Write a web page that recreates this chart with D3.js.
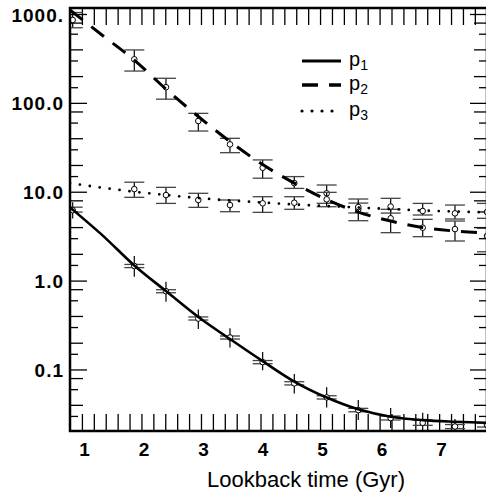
<!DOCTYPE html>
<html>
<head>
<meta charset="utf-8">
<script src="https://cdn.jsdelivr.net/npm/d3@7"></script>
<style>
body { margin: 0; background: #fff; }
svg { display: block; font-family: "Liberation Sans", Arial, sans-serif; }
</style>
</head>
<body>
<div id="chart"></div>
<script>
// lookback times (Gyr) of the binned measurements
const times = [0.845, 1.880, 2.412, 2.955, 3.487, 4.036, 4.567, 5.111, 5.642, 6.186, 6.724, 7.266, 7.804];

// p1 measurements: value, vertical error range, small cap range
const p1 = [6.2, 1.46, 0.76, 0.374, 0.229, 0.121, 0.0698, 0.0485, 0.0349, 0.0284, 0.0251, 0.0228, 0.0237];
const p1Lo = [5.0, 1.105, 0.578, 0.285, 0.177, 0.098, 0.0538, 0.0374, 0.027, 0.0219, 0.019, 0.018, 0.019];
const p1Hi = [7.6, 1.89, 0.97, 0.474, 0.290, 0.157, 0.0887, 0.063, 0.0453, 0.0368, 0.0326, 0.0277, 0.030];
const p1CapLo = [5.9, 1.40, 0.73, 0.36, 0.220, 0.116, 0.067, 0.0465, 0.0334, 0.0270, 0.0235, 0.0216, 0.0225];
const p1CapHi = [6.7, 1.52, 0.79, 0.39, 0.238, 0.126, 0.0728, 0.0506, 0.0365, 0.0299, 0.0269, 0.0240, 0.0250];

// p2 measurements
const p2 = [856, 309, 150, 62.5, 34.1, 18.6, 12.5, 9.6, 6.38, 5.02, 3.94, 3.80, 3.17];
const p2Lo = [700, 228, 110, 48.2, 27.5, 14.2, 10.9, 7.41, 4.72, 3.46, 3.12, 2.79, 2.11];
const p2Hi = [1040, 394, 189, 76.2, 39.9, 22.8, 14.8, 11.9, 7.45, 6.34, 4.89, 4.68, 3.87];

// p3 measurements
const p3 = [null, 10.7, 9.18, 8.07, 7.08, 7.40, 7.52, 8.21, 6.73, 6.81, 6.07, 5.71, 5.91];
const p3Lo = [null, 8.65, 7.39, 6.67, 5.96, 5.86, 6.34, 6.78, 5.77, 5.75, 5.47, 4.93, 5.02];
const p3Hi = [null, 12.8, 11.2, 9.6, 8.07, 8.79, 8.79, 9.84, 8.28, 8.43, 7.39, 7.08, 7.39];

// fitted curves
const fitTimes = [0.80, 1.337, 1.880, 2.412, 2.955, 3.487, 4.036, 4.567, 5.111, 5.642, 6.186, 6.724, 7.266, 7.82];
const p1Fit = [6.67, 3.27, 1.48, 0.762, 0.389, 0.220, 0.124, 0.0731, 0.0483, 0.0356, 0.0294, 0.0269, 0.0258, 0.0251];
const p2Fit = [1109, 581, 303, 143, 70.2, 36.7, 20.2, 12.5, 8.16, 5.90, 4.68, 3.95, 3.61, 3.43];
const p3Fit = [12.5, 11.1, 10.0, 9.18, 8.49, 7.96, 7.56, 7.18, 6.90, 6.64, 6.38, 6.14, 5.99, 5.84];

const xTickLabels = [1, 2, 3, 4, 5, 6, 7];
const yTickValues = [0.1, 1, 10, 100, 1000];
const yTickLabels = ['0.1', '1.0', '10.0', '100.0', '1000.'];
const legendLabels = ['1', '2', '3'];

const margin = {top: 8, right: -1, bottom: 64, left: 70},
      width = 486 - margin.left - margin.right,
      height = 495 - margin.top - margin.bottom;

const x = d3.scaleLinear()
    .domain([0.80, 7.804])
    .range([0, width]);

const y = d3.scaleLog()
    .domain([0.0203, 1168])
    .range([height, 0]);

const svg = d3.select('#chart').append('svg')
    .attr('width', 486)
    .attr('height', 495)
  .append('g')
    .attr('transform', `translate(${margin.left},${margin.top})`);

svg.append('clipPath')
    .attr('id', 'plot-clip')
  .append('rect')
    .attr('width', width)
    .attr('height', height);

// minor ticks
const xMinor = d3.range(1.0, 7.81, 0.2);
const decades = [0.01, 0.1, 1, 10, 100, 1000];
const yLong = [], yShort = [];
decades.forEach(dec => {
    [2, 4, 8].forEach(m => yLong.push(dec * m));
    [1.5, 3, 6].forEach(m => yShort.push(dec * m));
});
const inY = v => v >= y.domain()[0] && v <= y.domain()[1];

function tickAxis(axis, values, size) {
    return axis.tickValues(values).tickSize(size).tickFormat('');
}

const axes = svg.append('g').attr('class', 'axes');

axes.append('g')
    .attr('transform', `translate(0,${height})`)
    .call(tickAxis(d3.axisBottom(x), xMinor, -17));

axes.append('g')
    .call(tickAxis(d3.axisTop(x), xMinor, -17));

axes.append('g').call(tickAxis(d3.axisLeft(y), yTickValues, -17));
axes.append('g').call(tickAxis(d3.axisLeft(y), yLong.filter(inY), -13));
axes.append('g').call(tickAxis(d3.axisLeft(y), yShort.filter(inY), -8));

axes.append('g')
    .attr('transform', `translate(${width},0)`)
    .call(tickAxis(d3.axisRight(y), yTickValues, -17));
axes.append('g')
    .attr('transform', `translate(${width},0)`)
    .call(tickAxis(d3.axisRight(y), yLong.filter(inY), -13));
axes.append('g')
    .attr('transform', `translate(${width},0)`)
    .call(tickAxis(d3.axisRight(y), yShort.filter(inY), -8));

axes.selectAll('.domain').remove();
axes.selectAll('.tick line').attr('stroke', '#000').attr('stroke-width', 1.3);

// tick labels
svg.append('g')
    .attr('transform', `translate(0,${height})`)
    .call(d3.axisBottom(x).tickValues(xTickLabels).tickSize(0).tickFormat(d3.format('d')))
    .call(g => g.select('.domain').remove())
    .selectAll('text')
    .attr('y', 25)
    .attr('dy', 0)
    .attr('dx', 2)
    .attr('fill', '#000')
    .style('font-size', '19px')
    .style('font-weight', 'bold');

svg.append('g')
    .call(d3.axisLeft(y).tickValues(yTickValues).tickSize(0).tickPadding(6)
        .tickFormat((d, i) => yTickLabels[i]))
    .call(g => g.select('.domain').remove())
    .selectAll('text')
    .attr('dy', '0.37em')
    .attr('fill', '#000')
    .style('font-size', '19px')
    .style('font-weight', 'bold')
    .style('letter-spacing', '1px');

svg.append('text')
    .attr('x', 306 - margin.left)
    .attr('y', 487 - margin.top)
    .attr('text-anchor', 'middle')
    .style('font-size', '22px')
    .text('Lookback time (Gyr)');

// data
const series = [
    {key: 'p1', vals: p1, lo: p1Lo, hi: p1Hi, capLo: p1CapLo, capHi: p1CapHi, fit: p1Fit,
     width: 2.6, dash: null, cap: 'butt'},
    {key: 'p2', vals: p2, lo: p2Lo, hi: p2Hi, capLo: p2Lo, capHi: p2Hi, fit: p2Fit,
     width: 3, dash: '16,11', cap: 'butt'},
    {key: 'p3', vals: p3, lo: p3Lo, hi: p3Hi, capLo: p3Lo, capHi: p3Hi, fit: p3Fit,
     width: 2.8, dash: '0,10', cap: 'round'}
];

const plot = svg.append('g').attr('clip-path', 'url(#plot-clip)');

series.forEach(s => {
    const pts = times.map((t, i) => ({
        t, v: s.vals[i], lo: s.lo[i], hi: s.hi[i], capLo: s.capLo[i], capHi: s.capHi[i]
    })).filter(d => d.v != null);

    const g = plot.append('g').attr('class', `err ${s.key}`);

    g.selectAll('.vbar')
        .data(pts)
      .enter().append('line')
        .attr('x1', d => x(d.t))
        .attr('x2', d => x(d.t))
        .attr('y1', d => y(d.lo))
        .attr('y2', d => y(d.hi))
        .attr('stroke', '#000')
        .attr('stroke-width', 1.2);

    ['capLo', 'capHi'].forEach(k => {
        g.selectAll(`.${k}`)
            .data(pts)
          .enter().append('line')
            .attr('x1', d => x(d.t) - 10)
            .attr('x2', d => x(d.t) + 10)
            .attr('y1', d => y(d[k]))
            .attr('y2', d => y(d[k]))
            .attr('stroke', '#444')
            .attr('stroke-width', 1.3);
    });

    g.selectAll('circle')
        .data(pts)
      .enter().append('circle')
        .attr('cx', d => x(d.t))
        .attr('cy', d => y(d.v))
        .attr('r', 2.8)
        .attr('fill', '#fff')
        .attr('stroke', '#000')
        .attr('stroke-width', 1);
});

const line = d3.line()
    .x(d => x(d[0]))
    .y(d => y(d[1]))
    .curve(d3.curveMonotoneX);

series.forEach(s => {
    plot.append('path')
        .datum(fitTimes.map((t, i) => [t, s.fit[i]]))
        .attr('d', line)
        .attr('fill', 'none')
        .attr('stroke', '#000')
        .attr('stroke-width', s.width)
        .attr('stroke-dasharray', s.dash)
        .attr('stroke-linecap', s.cap);
});

// frame
svg.append('rect')
    .attr('width', width)
    .attr('height', height)
    .attr('fill', 'none')
    .attr('stroke', '#000')
    .attr('stroke-width', 2.5);

// legend
const legend = svg.append('g')
    .attr('transform', `translate(${300 - margin.left},${61 - margin.top})`);

const legendRows = [0, 24, 50];

series.forEach((s, i) => {
    const row = legend.append('g').attr('transform', `translate(0,${legendRows[i]})`);
    row.append('line')
        .attr('x1', 2)
        .attr('x2', 41)
        .attr('stroke', '#000')
        .attr('stroke-width', s.width + 0.4)
        .attr('stroke-dasharray', s.dash)
        .attr('stroke-linecap', s.cap);
    const t = row.append('text')
        .attr('x', 49)
        .attr('y', 5)
        .style('font-size', '20px')
        .text('p');
    t.append('tspan')
        .attr('dy', 4)
        .style('font-size', '14px')
        .text(legendLabels[i]);
});
</script>
</body>
</html>
